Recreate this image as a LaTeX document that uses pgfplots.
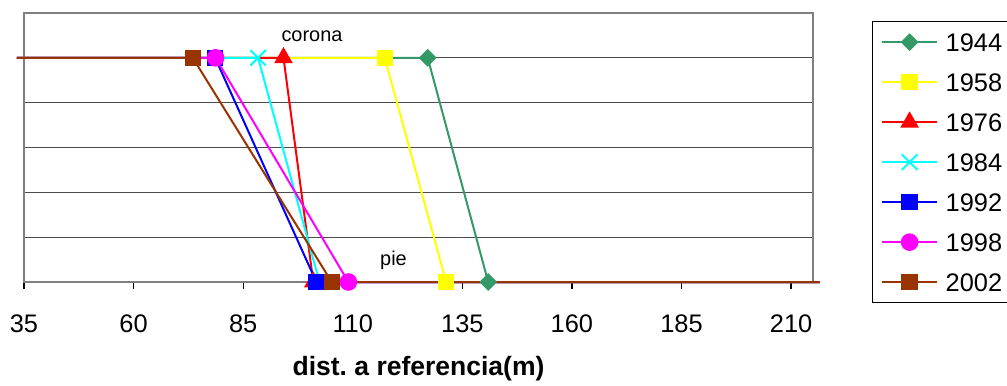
\documentclass[border=0pt]{standalone}
\usepackage{fontspec}
\setmainfont{Liberation Sans}
\usepackage{pgfplots}
\pgfplotsset{compat=1.18}
\definecolor{c1944}{RGB}{51,153,102}
\definecolor{c1958}{RGB}{255,255,0}
\definecolor{c1976}{RGB}{255,0,0}
\definecolor{c1984}{RGB}{0,255,255}
\definecolor{c1992}{RGB}{0,0,255}
\definecolor{c1998}{RGB}{255,0,255}
\definecolor{c2002}{RGB}{153,51,0}
\begin{document}
\begin{tikzpicture}
\useasboundingbox (0,0) rectangle (503.5bp,193bp);
\begin{axis}[
  at={(12bp,52bp)}, anchor=south west,
  scale only axis, width=394.5bp, height=134.5bp,
  xmin=35, xmax=215, ymin=0, ymax=6,
  xtick={35,60,...,210}, ytick={1,2,3,4,5}, yticklabels={},
  xtick pos=bottom, tick align=outside, major tick length=3.5bp,
  ytick style={draw=none},
  x tick style={black, line width=0.6bp},
  ymajorgrids, major grid style={black!70, line width=0.5bp},
  axis line style={gray, line width=1bp},
  clip=false,
  ticklabel style={font=\fontsize{12.75}{14}\selectfont},
  /pgf/number format/assume math mode=true,
  xticklabel shift=9.2bp,
  xlabel={dist.\ a referencia(m)},
  xlabel style={font=\fontsize{13.3}{15}\selectfont\bfseries,
    at={(axis description cs:0.5,0)}, anchor=base, yshift=-46.5bp},
  every axis plot/.append style={line width=1bp, mark indices={2,3}},
  legend image code/.code={\draw[mark indices={2}] plot coordinates {(0bp,0bp) (13.75bp,0bp) (27.5bp,0bp)};},
  legend style={at={(1.0748,0.970)}, anchor=north west, draw=black,
    line width=0.5bp, font=\fontsize{12.75}{14}\selectfont,
    inner xsep=4.3bp, inner ysep=5.7bp, row sep=10.8bp,
    nodes={inner sep=0pt, text height=9.2bp, text depth=0bp},
    /tikz/every odd column/.append style={column sep=3.8bp}},
  legend cell align=left,
]
\addplot[color=c1944, mark=square*, mark size=2.65bp, mark options={rotate=45}]
  coordinates {(33.4,5) (127.1,5) (140.9,0) (216.5,0)};
\addlegendentry{1944}
\addplot[color=c1958, mark=square*, mark size=3.6bp]
  coordinates {(33.4,5) (117.3,5) (131.3,0) (216.5,0)};
\addlegendentry{1958}
\addplot[color=c1976, mark=triangle*, mark size=4.4bp]
  coordinates {(33.4,5) (94.2,5) (101.0,0) (216.5,0)};
\addlegendentry{1976}
\addplot[color=c1984, mark=x, mark size=5.5bp]
  coordinates {(33.4,5) (88.4,5) (102.4,0) (216.5,0)};
\addlegendentry{1984}
\addplot[color=c1992, mark=square*, mark size=3.6bp]
  coordinates {(33.4,5) (78.6,5) (101.7,0) (216.5,0)};
\addlegendentry{1992}
\addplot[color=c1998, mark=*, mark size=3.9bp]
  coordinates {(33.4,5) (78.7,5) (109,0) (216.5,0)};
\addlegendentry{1998}
\addplot[color=c2002, mark=square*, mark size=3.6bp]
  coordinates {(33.4,5) (73.5,5) (105.2,0) (216.5,0)};
\addlegendentry{2002}
\node[font=\fontsize{10}{12}\selectfont, anchor=base] at (axis cs:100.7,5.36) {corona};
\node[font=\fontsize{10}{12}\selectfont, anchor=base] at (axis cs:119.3,0.357) {pie};
\end{axis}
\end{tikzpicture}
\end{document}
